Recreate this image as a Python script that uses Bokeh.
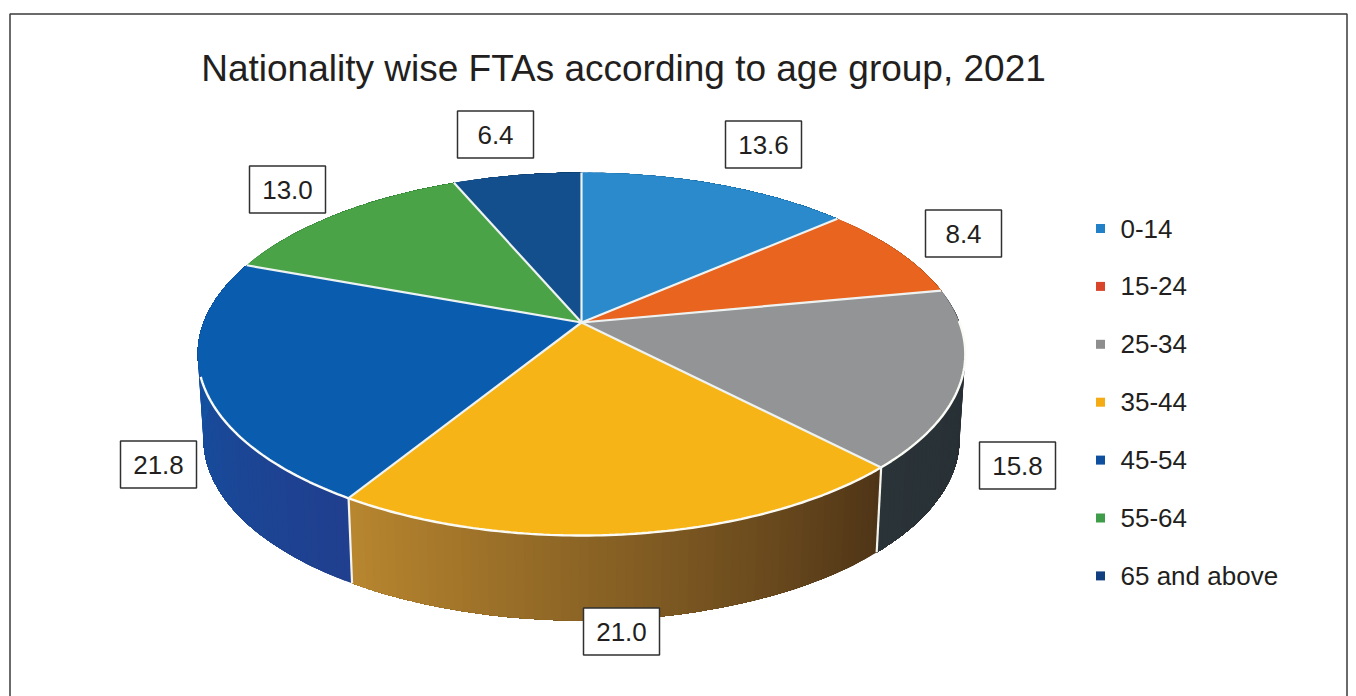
import numpy as np
from bokeh.plotting import figure
from bokeh.models import Range1d
from bokeh.core.properties import value
from bokeh.embed import file_html
from bokeh.resources import INLINE

TITLE = "Nationality wise FTAs according to age group, 2021"
categories = ["0-14", "15-24", "25-34", "35-44", "45-54", "55-64", "65 and above"]
shares = [13.6, 8.4, 15.8, 21.0, 21.8, 13.0, 6.4]
labels = ["13.6", "8.4", "15.8", "21.0", "21.8", "13.0", "6.4"]
top_colors = ["#2b8acb", "#e8641f", "#929496", "#f7b417", "#0a5cae", "#4aa346", "#124f8c"]
legend_colors = ["#2280c8", "#d8452a", "#8e8e8e", "#f5ab14", "#0f4fa0", "#3f9c48", "#123f80"]
side_start = ["#1a6aa0", "#b04a14", "#262e33", "#4f3517", "#203f8e", "#2c7a30", "#0c3a68"]
side_end = ["#1a6aa0", "#b04a14", "#2a3338", "#b8862f", "#0f58a8", "#2c7a30", "#0c3a68"]

# layout, in page pixels
label_x = [763, 963, 1017, 621, 158, 287, 495]
label_y = [144, 233, 465, 631, 464, 189, 134]
legend_x, legend_y0, legend_dy = 1100, 228, 57.9
CX, CY, A, B, K = 581.0, 322.0, 378.0, 176.0, 0.1736
DEPTH = 85.0


def top_xy(t):
    u, v = np.sin(t), np.cos(t)
    d = 1 + K * v
    return CX + A * u / d, CY - B * v / d


def bottom_xy(t):
    x, y = top_xy(t)
    return CX + (x - CX) * 0.985, y + DEPTH


def lerp_hex(c1, c2, f):
    a = [int(c1[i:i + 2], 16) for i in (1, 3, 5)]
    b = [int(c2[i:i + 2], 16) for i in (1, 3, 5)]
    return "#%02x%02x%02x" % tuple(int(round(p + (q - p) * f)) for p, q in zip(a, b))


p = figure(width=1356, height=696, output_backend="svg", toolbar_location=None,
           x_range=Range1d(0, 1356), y_range=Range1d(696, 0), min_border=0,
           background_fill_color="white", border_fill_color="white")
p.axis.visible = False
p.grid.visible = False
p.outline_line_color = None

# outer frame
p.quad(left=[9.5], right=[1346.5], top=[13.5], bottom=[710], fill_color=None,
       line_color="#3a3a3a", line_width=1.5)

edges = np.cumsum([0] + shares) / sum(shares) * 2 * np.pi

# side wall: overlapping strips, painted from one end of each slice to the other
for i in range(len(shares)):
    n = max(2, int((edges[i + 1] - edges[i]) / 0.02))
    ts = np.linspace(edges[i], edges[i + 1], n + 1)
    xs, ys, cs = [], [], []
    for j in range(n):
        tt = np.linspace(ts[j], edges[i + 1], n + 1 - j)
        x1, y1 = top_xy(tt)
        x2, y2 = bottom_xy(tt)
        xs.append(np.r_[x1, x2[::-1]])
        ys.append(np.r_[y1, y2[::-1]])
        cs.append(lerp_hex(side_start[i], side_end[i], j / max(1, n - 1)))
    p.patches(xs, ys, fill_color=cs, line_color=None)

# white seams on the wall
for e in (edges[3], edges[4]):
    x1, y1 = top_xy(e)
    x2, y2 = bottom_xy(e)
    p.line([x1, x2], [y1, y2], line_color="#f4f4ee", line_width=2.2)

# top face
for i in range(len(shares)):
    ts = np.linspace(edges[i], edges[i + 1], 80)
    x, y = top_xy(ts)
    p.patch(np.r_[CX, x], np.r_[CY, y], fill_color=top_colors[i], line_color=None)

# rim
ts = np.linspace(edges[2] + 0.18, edges[4] + 0.72, 200)
rx, ry = top_xy(ts)
p.line(rx, ry, line_color="#fbfbf6", line_width=2.4)

# spokes
for e in edges[:-1]:
    x, y = top_xy(e)
    p.line([CX, x], [CY, y], line_color="#eef3f2", line_width=2.2)

# data labels
p.rect(label_x, label_y, width=76, height=47, fill_color="white", line_color="#303030", line_width=1.5)
p.text(label_x, label_y, text=labels, text_font=value("Liberation Sans"), text_font_size="26px",
       text_align="center", text_baseline="middle", text_color="#231f20")

# legend
ly = [legend_y0 + legend_dy * i for i in range(len(categories))]
p.scatter([legend_x] * len(categories), ly, marker="square", size=9, fill_color=legend_colors, line_color=None)
p.text([legend_x + 20] * len(categories), ly, text=categories, text_font=value("Liberation Sans"),
       text_font_size="26px", text_align="left", text_baseline="middle", text_color="#231f20")

# title
p.text([623], [68], text=[TITLE], text_font=value("Liberation Sans"), text_font_size="37px",
       text_align="center", text_baseline="middle", text_color="#231f20")

open("out.html", "w").write(file_html(p, INLINE))
